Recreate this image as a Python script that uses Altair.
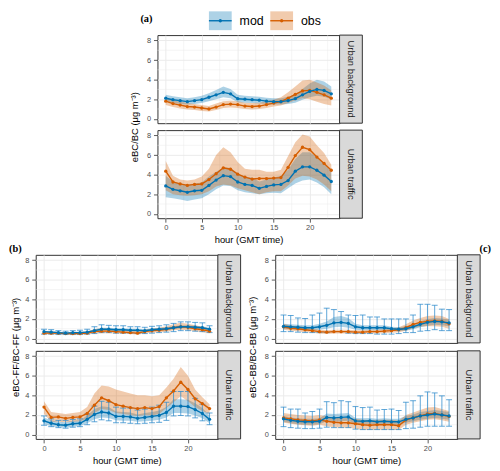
import altair as alt
import pandas as pd

hours = list(range(24))
series_names = ["mod", "obs"]
x_major = [0, 5, 10, 15, 20]
x_minor = [2.5, 7.5, 12.5, 17.5, 22.5]
y_major = [0, 2, 4, 6, 8]
y_minor = [1, 3, 5, 7]

# ---------------- (a) eBC / BC ----------------
a_ub_mod = [2.1, 1.95, 1.85, 1.75, 1.85, 1.95, 2.2, 2.45, 2.7, 2.55, 2.05, 2.0, 1.95, 1.9, 1.8, 1.75, 1.75, 1.85, 2.05, 2.45, 2.8, 3.0, 2.9, 2.55]
a_ub_mod_lo = [1.75, 1.6, 1.5, 1.45, 1.5, 1.6, 1.8, 2.0, 2.2, 2.1, 1.7, 1.65, 1.6, 1.55, 1.5, 1.45, 1.45, 1.5, 1.65, 1.95, 2.2, 2.35, 2.25, 2.0]
a_ub_mod_hi = [2.45, 2.3, 2.2, 2.1, 2.2, 2.35, 2.6, 2.95, 3.3, 3.05, 2.45, 2.35, 2.3, 2.25, 2.15, 2.1, 2.1, 2.25, 2.5, 3.05, 3.6, 4.0, 3.8, 3.3]
a_ub_obs = [1.8, 1.55, 1.4, 1.25, 1.2, 1.1, 1.0, 1.2, 1.45, 1.5, 1.45, 1.3, 1.25, 1.3, 1.45, 1.6, 1.75, 2.1, 2.5, 2.85, 2.9, 2.7, 2.45, 2.1]
a_ub_obs_lo = [1.4, 1.2, 1.05, 0.95, 0.9, 0.8, 0.75, 0.9, 1.1, 1.15, 1.1, 1.0, 0.95, 1.0, 1.1, 1.25, 1.35, 1.6, 1.9, 2.1, 2.0, 1.75, 1.5, 1.35]
a_ub_obs_hi = [2.2, 1.9, 1.75, 1.6, 1.5, 1.4, 1.3, 1.55, 1.8, 1.85, 1.8, 1.65, 1.6, 1.65, 1.8, 1.95, 2.2, 2.7, 3.3, 3.9, 4.0, 3.7, 3.4, 2.9]

a_ut_mod = [2.85, 2.5, 2.35, 2.2, 2.35, 2.4, 2.9, 3.45, 3.9, 3.8, 3.25, 3.0, 2.9, 2.6, 2.8, 2.95, 3.0, 3.4, 4.35, 4.8, 4.8, 4.45, 3.95, 3.3]
a_ut_mod_lo = [1.7, 1.6, 1.45, 1.3, 1.45, 1.6, 2.0, 2.5, 2.9, 2.85, 2.4, 2.2, 2.1, 2.0, 2.1, 2.15, 2.1, 2.6, 3.1, 3.4, 3.5, 3.2, 2.7, 2.0]
a_ut_mod_hi = [3.9, 3.3, 3.1, 3.0, 3.1, 3.2, 3.8, 4.3, 4.7, 4.7, 4.1, 3.8, 3.7, 3.3, 3.5, 3.7, 3.9, 4.5, 5.6, 6.3, 6.3, 5.8, 5.1, 4.4]
a_ut_obs = [4.35, 3.25, 3.05, 2.9, 3.0, 3.05, 3.5, 4.1, 4.7, 4.55, 4.05, 3.75, 3.55, 3.6, 3.6, 3.65, 3.7, 4.75, 5.95, 6.8, 6.55, 5.8, 5.15, 4.45]
a_ut_obs_lo = [2.4, 2.0, 1.9, 1.85, 1.9, 2.0, 2.3, 2.8, 3.0, 2.9, 2.6, 2.4, 2.2, 2.0, 2.2, 2.3, 2.3, 2.9, 3.6, 3.9, 3.8, 3.5, 3.0, 2.3]
a_ut_obs_hi = [5.4, 3.9, 3.5, 3.4, 3.5, 3.8, 4.6, 6.0, 6.8, 6.3, 5.3, 4.6, 4.5, 4.5, 4.3, 4.3, 4.5, 5.9, 7.3, 8.1, 7.9, 7.0, 6.2, 5.0]

# ---------------- (b) eBC-FF / BC-FF ----------------
b_ub_mod = [0.7, 0.65, 0.6, 0.55, 0.6, 0.6, 0.65, 0.8, 0.95, 0.95, 0.9, 0.9, 0.85, 0.85, 0.8, 0.9, 0.95, 1.0, 1.1, 1.2, 1.2, 1.15, 1.1, 0.95]
b_ub_mod_lo = [0.6, 0.55, 0.5, 0.45, 0.5, 0.5, 0.55, 0.65, 0.8, 0.8, 0.75, 0.75, 0.7, 0.7, 0.7, 0.75, 0.8, 0.85, 0.95, 1.05, 1.05, 1.0, 0.95, 0.8]
b_ub_mod_hi = [0.8, 0.75, 0.7, 0.65, 0.7, 0.7, 0.75, 0.95, 1.1, 1.1, 1.05, 1.05, 1.0, 1.0, 0.95, 1.05, 1.1, 1.15, 1.25, 1.35, 1.35, 1.3, 1.25, 1.1]
b_ub_err_lo = [0.45, 0.45, 0.4, 0.4, 0.4, 0.4, 0.45, 0.5, 0.6, 0.6, 0.55, 0.55, 0.55, 0.5, 0.5, 0.55, 0.6, 0.65, 0.7, 0.8, 0.8, 0.75, 0.7, 0.6]
b_ub_err_hi = [0.95, 0.9, 0.8, 0.75, 0.8, 0.85, 0.95, 1.2, 1.4, 1.35, 1.3, 1.3, 1.2, 1.2, 1.15, 1.25, 1.3, 1.4, 1.55, 1.7, 1.7, 1.65, 1.6, 1.3]
b_ub_obs = [0.55, 0.55, 0.55, 0.5, 0.5, 0.5, 0.55, 0.7, 0.75, 0.75, 0.7, 0.65, 0.6, 0.55, 0.7, 0.8, 0.85, 0.95, 1.1, 1.2, 1.15, 1.0, 0.9, 0.75]
b_ub_obs_lo = [0.4, 0.4, 0.4, 0.35, 0.35, 0.35, 0.4, 0.5, 0.55, 0.55, 0.5, 0.45, 0.45, 0.4, 0.5, 0.6, 0.65, 0.7, 0.85, 0.9, 0.85, 0.75, 0.65, 0.55]
b_ub_obs_hi = [0.75, 0.7, 0.7, 0.65, 0.65, 0.65, 0.75, 0.95, 1.05, 1.0, 0.95, 0.9, 0.85, 0.8, 0.9, 1.0, 1.1, 1.25, 1.45, 1.6, 1.5, 1.35, 1.2, 1.0]

b_ut_mod = [1.4, 1.15, 1.0, 0.95, 1.1, 1.15, 1.55, 2.05, 2.3, 2.2, 1.85, 1.85, 1.8, 1.65, 1.75, 1.85, 1.95, 2.25, 2.9, 2.9, 2.85, 2.55, 2.15, 1.55]
b_ut_mod_lo = [1.05, 0.85, 0.75, 0.7, 0.8, 0.85, 1.15, 1.55, 1.75, 1.7, 1.45, 1.4, 1.4, 1.3, 1.35, 1.4, 1.5, 1.75, 2.2, 2.2, 2.15, 1.95, 1.65, 1.15]
b_ut_mod_hi = [1.75, 1.45, 1.3, 1.25, 1.4, 1.45, 1.95, 2.6, 2.9, 2.8, 2.35, 2.3, 2.25, 2.05, 2.2, 2.3, 2.45, 2.8, 3.6, 3.6, 3.55, 3.2, 2.7, 1.95]
b_ut_err_lo = [0.95, 0.8, 0.7, 0.65, 0.75, 0.8, 1.0, 1.3, 1.5, 1.4, 1.2, 1.2, 1.15, 1.1, 1.15, 1.2, 1.25, 1.45, 1.9, 1.95, 1.9, 1.7, 1.4, 1.0]
b_ut_err_hi = [1.9, 1.6, 1.45, 1.45, 1.55, 1.6, 2.1, 2.9, 3.4, 3.3, 2.8, 2.7, 2.7, 2.5, 2.6, 2.8, 3.0, 3.3, 4.4, 4.4, 4.4, 3.7, 3.1, 2.2]
b_ut_obs = [2.8, 1.75, 1.8, 1.65, 1.75, 1.8, 2.15, 3.0, 3.75, 3.45, 3.05, 2.9, 2.75, 2.65, 2.75, 2.65, 2.85, 3.75, 4.45, 5.35, 4.6, 3.65, 3.15, 2.65]
b_ut_obs_lo = [2.1, 1.3, 1.3, 1.25, 1.3, 1.35, 1.6, 2.2, 2.6, 2.5, 2.2, 2.1, 2.0, 1.9, 2.0, 1.95, 2.1, 2.7, 3.3, 3.9, 3.4, 2.8, 2.4, 2.1]
b_ut_obs_hi = [3.4, 2.3, 2.2, 2.1, 2.2, 2.3, 2.8, 4.2, 5.0, 4.9, 4.6, 4.4, 4.2, 4.0, 4.0, 3.9, 4.0, 4.8, 5.7, 6.9, 6.0, 4.6, 3.8, 3.1]

# ---------------- (c) eBC-BB / BC-BB ----------------
c_ub_mod = [1.25, 1.2, 1.15, 1.1, 1.1, 1.2, 1.35, 1.6, 1.65, 1.55, 1.2, 1.1, 1.1, 1.1, 1.1, 1.0, 0.95, 1.0, 1.2, 1.45, 1.65, 1.75, 1.7, 1.6]
c_ub_mod_lo = [1.0, 0.95, 0.9, 0.85, 0.85, 0.9, 1.0, 1.15, 1.2, 1.1, 0.9, 0.85, 0.85, 0.85, 0.85, 0.8, 0.75, 0.8, 0.95, 1.15, 1.3, 1.4, 1.35, 1.25]
c_ub_mod_hi = [1.5, 1.45, 1.4, 1.35, 1.35, 1.5, 1.75, 2.2, 2.3, 2.1, 1.5, 1.35, 1.35, 1.35, 1.35, 1.2, 1.15, 1.25, 1.45, 1.75, 2.0, 2.1, 2.05, 1.95]
c_ub_err_lo = [0.7, 0.7, 0.65, 0.6, 0.6, 0.6, 0.6, 0.7, 0.7, 0.55, 0.5, 0.5, 0.5, 0.45, 0.45, 0.45, 0.5, 0.6, 0.6, 0.75, 0.8, 0.9, 0.8, 0.8]
c_ub_err_hi = [2.4, 2.35, 2.1, 2.05, 2.4, 2.6, 3.1, 2.95, 2.75, 2.4, 2.35, 2.4, 2.2, 2.2, 2.0, 2.0, 2.0, 2.0, 2.4, 3.5, 3.5, 3.4, 3.0, 2.95]
c_ub_obs = [1.2, 1.05, 1.0, 0.9, 0.8, 0.7, 0.65, 0.7, 0.7, 0.7, 0.65, 0.65, 0.7, 0.7, 0.75, 0.8, 0.9, 1.1, 1.45, 1.65, 1.75, 1.8, 1.75, 1.5]
c_ub_obs_lo = [0.9, 0.8, 0.75, 0.65, 0.6, 0.5, 0.45, 0.5, 0.5, 0.5, 0.45, 0.45, 0.5, 0.5, 0.55, 0.6, 0.65, 0.8, 1.05, 1.2, 1.25, 1.25, 1.2, 1.0]
c_ub_obs_hi = [1.5, 1.3, 1.25, 1.15, 1.0, 0.9, 0.85, 0.9, 0.9, 0.9, 0.85, 0.85, 0.9, 0.9, 0.95, 1.0, 1.15, 1.45, 1.85, 2.1, 2.3, 2.35, 2.3, 2.0]

c_ut_mod = [1.6, 1.45, 1.35, 1.3, 1.3, 1.35, 1.75, 1.7, 1.75, 1.8, 1.4, 1.35, 1.4, 1.3, 1.35, 1.3, 1.3, 1.55, 1.7, 1.9, 2.0, 2.1, 2.0, 1.9]
c_ut_mod_lo = [1.3, 1.15, 1.05, 1.0, 1.0, 1.05, 1.35, 1.3, 1.35, 1.4, 1.1, 1.05, 1.1, 1.0, 1.05, 1.0, 1.0, 1.2, 1.35, 1.5, 1.6, 1.7, 1.6, 1.5]
c_ut_mod_hi = [1.9, 1.75, 1.65, 1.6, 1.6, 1.65, 2.15, 2.1, 2.15, 2.2, 1.7, 1.65, 1.7, 1.6, 1.65, 1.6, 1.6, 1.9, 2.05, 2.3, 2.4, 2.5, 2.4, 2.3]
c_ut_err_lo = [0.8, 0.7, 0.65, 0.6, 0.6, 0.65, 0.75, 0.7, 0.7, 0.7, 0.55, 0.5, 0.5, 0.5, 0.5, 0.5, 0.5, 0.6, 0.65, 0.75, 0.85, 0.85, 0.85, 0.85]
c_ut_err_hi = [2.8, 2.6, 2.6, 2.2, 2.35, 2.6, 3.35, 3.25, 3.45, 3.35, 2.85, 2.75, 2.8, 2.5, 2.55, 2.6, 2.45, 3.3, 3.45, 3.95, 4.35, 4.25, 3.95, 3.55]
c_ut_obs = [1.7, 1.6, 1.5, 1.45, 1.4, 1.5, 1.35, 1.25, 1.2, 1.2, 1.1, 1.0, 0.95, 1.0, 1.0, 1.0, 0.9, 1.5, 1.7, 1.9, 2.1, 2.15, 2.0, 1.85]
c_ut_obs_lo = [1.2, 1.1, 1.0, 0.95, 0.9, 1.0, 0.85, 0.75, 0.7, 0.7, 0.6, 0.5, 0.45, 0.5, 0.5, 0.5, 0.45, 1.0, 1.2, 1.35, 1.5, 1.55, 1.45, 1.3]
c_ut_obs_hi = [2.2, 2.1, 2.0, 1.95, 1.9, 2.0, 1.85, 1.75, 1.7, 1.7, 1.6, 1.5, 1.45, 1.5, 1.5, 1.5, 1.4, 2.0, 2.25, 2.5, 2.75, 2.8, 2.6, 2.4]

strip_labels = ["Urban background", "Urban traffic"]
y_titles = ["eBC/BC (μg m⁻³)", "eBC-FF/BC-FF (μg m⁻³)", "eBC-BB/BC-BB (μg m⁻³)"]
panel_tags = ["(a)", "(b)", "(c)"]
x_title = "hour (GMT time)"

# ---------------- style ----------------
W, H, SW = 184, 89, 23
XDOM = [-1.15, 24.15]
YDOM = [-0.45, 8.55]
MOD_C = "#0072B2"
OBS_C = "#D55E00"
ERR_C = "#2E8BCB"
FONT = "Liberation Sans"
SERIF = "Liberation Serif"
GRID = "#ebebeb"


def sdf(v, lo, hi):
    return pd.DataFrame({"hour": hours, "v": v, "lo": lo, "hi": hi})


def panel(mod, mod_lo, mod_hi, obs, obs_lo, obs_hi, strip, bottom,
          err=None, ytitle=None, gap=7, tpad=7, extras=()):
    xs = alt.Scale(domain=XDOM, nice=False, zero=False)
    ys = alt.Scale(domain=YDOM, nice=False, zero=False)
    if bottom:
        xaxis = alt.Axis(values=x_major, title=x_title, grid=True, labelPadding=1.5,
                         titlePadding=4)
    else:
        xaxis = alt.Axis(values=x_major, title="", labels=False, ticks=False, grid=True)
    if ytitle:
        yaxis = alt.Axis(values=y_major, title=ytitle, titleY=H + gap / 2,
                         titlePadding=tpad, labelPadding=3)
    else:
        yaxis = alt.Axis(values=y_major, title="", labelPadding=3)

    def X(f):
        return alt.X(f"{f}:Q", scale=xs, axis=xaxis)

    def Y(f):
        return alt.Y(f"{f}:Q", scale=ys, axis=yaxis)

    d_mod = sdf(mod, mod_lo, mod_hi)
    d_obs = sdf(obs, obs_lo, obs_hi)

    layers = [
        alt.Chart(pd.DataFrame({"hour": x_minor})).mark_rule(color=GRID, strokeWidth=0.5)
        .encode(x=X("hour")),
        alt.Chart(pd.DataFrame({"v": y_minor})).mark_rule(color=GRID, strokeWidth=0.5)
        .encode(y=Y("v")),
        alt.Chart(d_mod).mark_area(color=MOD_C, opacity=0.32)
        .encode(x=X("hour"), y=Y("lo"), y2="hi"),
        alt.Chart(d_obs).mark_area(color=OBS_C, opacity=0.32)
        .encode(x=X("hour"), y=Y("lo"), y2="hi"),
    ]
    if err is not None:
        d_err = pd.DataFrame({"hour": hours, "lo": err[0], "hi": err[1]})
        layers += [
            alt.Chart(d_err).mark_rule(color=ERR_C, strokeWidth=0.9, opacity=0.85)
            .encode(x=X("hour"), y=Y("lo"), y2="hi"),
            alt.Chart(d_err).mark_tick(color=ERR_C, orient="horizontal", size=6,
                                       thickness=0.9, opacity=0.85)
            .encode(x=X("hour"), y=Y("hi")),
            alt.Chart(d_err).mark_tick(color=ERR_C, orient="horizontal", size=6,
                                       thickness=0.9, opacity=0.85)
            .encode(x=X("hour"), y=Y("lo")),
        ]
    layers += [
        alt.Chart(d_obs).mark_line(color=OBS_C, strokeWidth=1.4).encode(x=X("hour"), y=Y("v")),
        alt.Chart(d_obs).mark_circle(color=OBS_C, size=11, opacity=1).encode(x=X("hour"), y=Y("v")),
        alt.Chart(d_mod).mark_line(color=MOD_C, strokeWidth=1.4).encode(x=X("hour"), y=Y("v")),
        alt.Chart(d_mod).mark_circle(color=MOD_C, size=11, opacity=1).encode(x=X("hour"), y=Y("v")),
    ]
    sd = pd.DataFrame({"label": [strip]})
    layers += [
        alt.Chart(sd).mark_rect(fill="#d9d9d9", stroke="#333333", strokeWidth=1)
        .encode(x=alt.value(W), x2=alt.value(W + SW), y=alt.value(0), y2=alt.value(H)),
        alt.Chart(sd).mark_text(angle=90, fontSize=9.5, color="#1a1a1a", font=FONT)
        .encode(text="label:N", x=alt.value(W + SW / 2), y=alt.value(H / 2)),
    ]
    layers += list(extras)
    return alt.layer(*layers).properties(width=W, height=H)


def tag(label, xpos, align, ypos=-6):
    return alt.Chart(pd.DataFrame({"t": [label]})).mark_text(
        font=SERIF, fontWeight="bold", fontSize=10.5, align=align, baseline="middle",
        color="black").encode(text="t:N", x=alt.value(xpos), y=alt.value(ypos))


def legend_items():
    out = []
    keyx = [52, 114]
    for name, col, k in zip(series_names, [MOD_C, OBS_C], keyx):
        d = pd.DataFrame({"t": [name]})
        base = alt.Chart(d)
        out += [
            base.mark_rect(color=col, opacity=0.32)
            .encode(x=alt.value(k), x2=alt.value(k + 23), y=alt.value(-24), y2=alt.value(-5)),
            base.mark_rule(color=col, strokeWidth=1.4)
            .encode(x=alt.value(k), x2=alt.value(k + 23), y=alt.value(-14.5)),
            base.mark_circle(color=col, size=11, opacity=1)
            .encode(x=alt.value(k + 11.5), y=alt.value(-14.5)),
            base.mark_text(font=FONT, fontSize=12.5, align="left", baseline="middle", color="black")
            .encode(text="t:N", x=alt.value(k + 31), y=alt.value(-14.5)),
        ]
    out.append(tag(panel_tags[0], -5, "right", -16))
    return out


# ---------------- panels ----------------
a1 = panel(a_ub_mod, a_ub_mod_lo, a_ub_mod_hi, a_ub_obs, a_ub_obs_lo, a_ub_obs_hi,
           strip_labels[0], False, ytitle=y_titles[0], gap=7, tpad=7, extras=legend_items())
a2 = panel(a_ut_mod, a_ut_mod_lo, a_ut_mod_hi, a_ut_obs, a_ut_obs_lo, a_ut_obs_hi,
           strip_labels[1], True)
b1 = panel(b_ub_mod, b_ub_mod_lo, b_ub_mod_hi, b_ub_obs, b_ub_obs_lo, b_ub_obs_hi,
           strip_labels[0], False, err=(b_ub_err_lo, b_ub_err_hi), ytitle=y_titles[1], gap=8,
           tpad=4, extras=[tag(panel_tags[1], -27, "left")])
b2 = panel(b_ut_mod, b_ut_mod_lo, b_ut_mod_hi, b_ut_obs, b_ut_obs_lo, b_ut_obs_hi,
           strip_labels[1], True, err=(b_ut_err_lo, b_ut_err_hi))
c1 = panel(c_ub_mod, c_ub_mod_lo, c_ub_mod_hi, c_ub_obs, c_ub_obs_lo, c_ub_obs_hi,
           strip_labels[0], False, err=(c_ub_err_lo, c_ub_err_hi), ytitle=y_titles[2], gap=8,
           tpad=7, extras=[tag(panel_tags[2], 218, "right")])
c2 = panel(c_ut_mod, c_ut_mod_lo, c_ut_mod_hi, c_ut_obs, c_ut_obs_lo, c_ut_obs_hi,
           strip_labels[1], True, err=(c_ut_err_lo, c_ut_err_hi))

blockA = alt.vconcat(a1, a2, spacing=7, bounds="flush")
blockB = alt.vconcat(b1, b2, spacing=8, bounds="flush")
blockC = alt.vconcat(c1, c2, spacing=8, bounds="flush")

spacer = alt.Chart(pd.DataFrame({"z": [0]})).mark_point(opacity=0).properties(
    width=93, height=10, view=alt.ViewBackground(stroke="transparent"))

top_row = alt.hconcat(spacer, blockA, spacing=0)
bottom_row = alt.hconcat(blockB, blockC, spacing=5)

chart = alt.vconcat(top_row, bottom_row, spacing=-2).properties(
    padding=0
).configure_view(
    stroke="#333333", strokeWidth=1
).configure_axis(
    labelFont=FONT, labelFontSize=7.5, labelColor="#4d4d4d",
    tickColor="#333333", tickSize=4, tickWidth=0.8, domain=False,
    gridColor=GRID, gridWidth=1,
    titleFont=FONT, titleFontSize=9.5, titleFontWeight="normal", titleColor="black"
)

chart.save("out.html", embed_options={"renderer": "svg", "actions": False})
